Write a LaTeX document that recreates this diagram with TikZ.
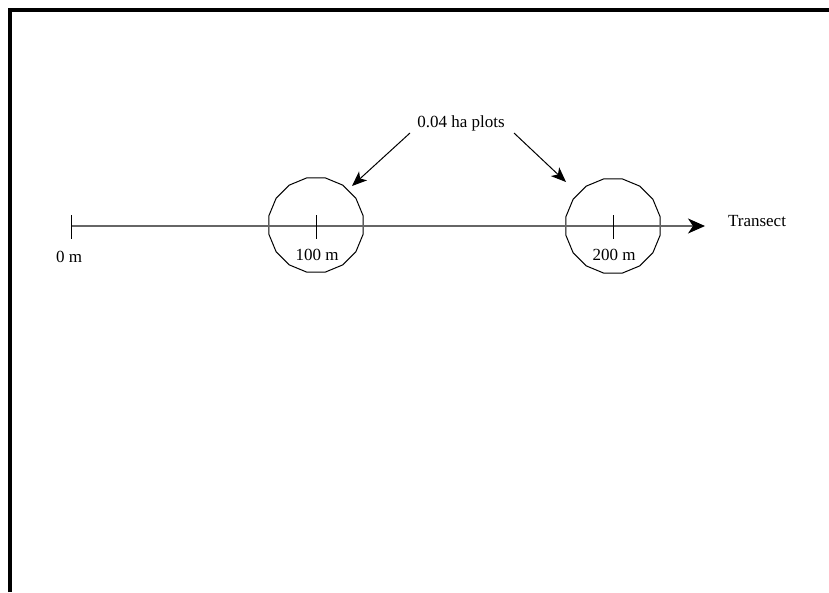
\documentclass[tikz,border=0pt]{standalone}
\usepackage{fontspec}
\setmainfont{Liberation Serif}
\usetikzlibrary{arrows.meta,shapes.geometric}
\begin{document}
\begin{tikzpicture}[x=1pt,y=-1pt,
  lbl/.style={font=\fontsize{17}{20}\selectfont, inner sep=0pt},
  plot/.style={draw=black, line width=1pt, regular polygon, regular polygon sides=16, minimum size=96pt, inner sep=0pt},
  tick/.style={draw=black, line width=1pt},
  pointer/.style={draw=black, line width=1pt, -{Stealth[length=15pt,width=12pt,inset=4pt]}},
  frameline/.style={draw=black, line width=4pt}]
\useasboundingbox (0,0) rectangle (829,592);
% frame
\coordinate (fTL) at (10,8);
\coordinate (fBL) at (10,592);
\coordinate (fTR) at (829,10);
\draw[frameline] (fBL) -- (fTL |- 0,10) -- (fTR);
% plots
\node[plot] (p1) at (316,225) {};
\node[plot] (p2) at (613,226) {};
% transect
\coordinate (t0) at (71,226);
\coordinate (tend) at (705,226);
\draw[black!60, line width=1.5pt, -{Stealth[length=17pt,width=15pt,inset=5pt,black]}] (t0) -- (tend);
% ticks
\draw[tick] (71,215) -- (71,239);
\draw[tick] (316,215) -- (316,239);
\draw[tick] (613,215) -- (613,239);
% labels
\node[lbl] (l0) at (69,257) {0 m};
\node[lbl] (l1) at (317,255) {100 m};
\node[lbl] (l2) at (614,255) {200 m};
\node[lbl] (lt) at (757,221) {Transect};
\node[lbl] (lp) at (461,123) {0.04 ha plots};
% pointers
\coordinate (a1) at (352,186);
\coordinate (a2) at (566,182);
\draw[pointer] (410,133) -- (a1);
\draw[pointer] (514,133) -- (a2);
\end{tikzpicture}
\end{document}
